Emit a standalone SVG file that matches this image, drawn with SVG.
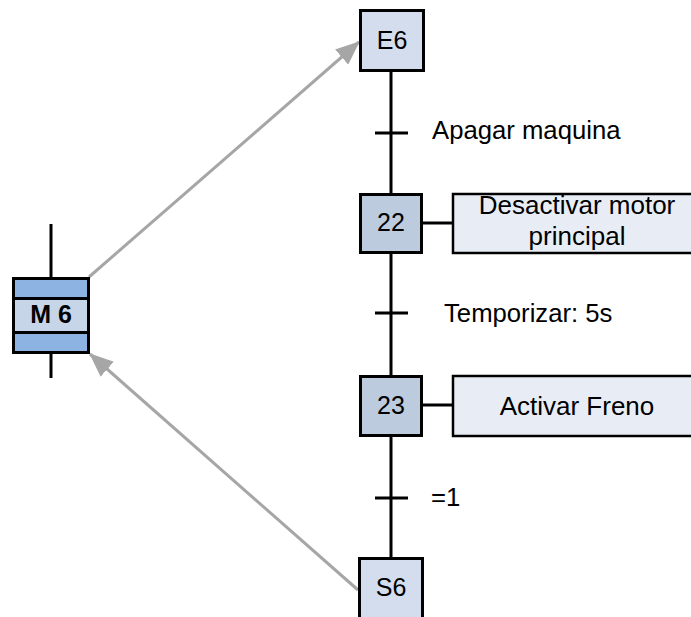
<svg xmlns="http://www.w3.org/2000/svg" width="691" height="617" viewBox="0 0 691 617">
  <style>
    text { font-family: "Liberation Sans", Arial, sans-serif; fill: #000; }
    .lbl { font-size: 25px; text-anchor: middle; }
    .act { font-size: 26px; text-anchor: middle; }
    .cond { font-size: 25.7px; }
    .step { stroke: #000; stroke-width: 3; }
    .light { fill: #d3dded; }
    .dark { fill: #bccbdd; }
    .action { fill: #e8edf5; stroke: #000; stroke-width: 2.5; }
    .wire { stroke: #000; stroke-width: 3; fill: none; }
    .link { stroke: #a6a6a6; stroke-width: 3; fill: none; }
  </style>
  <defs>
    <marker id="head" markerUnits="userSpaceOnUse" markerWidth="24" markerHeight="20" viewBox="0 0 24 20" refX="23" refY="10" orient="auto">
      <path d="M0,0 L24,10 L0,20 Z" fill="#a6a6a6"/>
    </marker>
  </defs>

  <rect width="691" height="617" fill="#fff"/>

  <!-- sequence wiring: main spine, transitions, action links -->
  <g id="connectors">
    <line class="wire" x1="391" y1="70" x2="391" y2="558"/>
    <line class="wire" x1="375" y1="133" x2="408" y2="133"/>
    <line class="wire" x1="375" y1="313" x2="408" y2="313"/>
    <line class="wire" x1="375" y1="498" x2="408" y2="498"/>
    <line class="wire" x1="422" y1="223" x2="453" y2="223"/>
    <line class="wire" x1="422" y1="405" x2="453" y2="405"/>
    <line class="wire" x1="51" y1="224" x2="51" y2="278"/>
    <line class="wire" x1="51" y1="352" x2="51" y2="378"/>
    <line class="link" x1="89" y1="277" x2="359" y2="42" marker-end="url(#head)"/>
    <line class="link" x1="358" y1="590" x2="90" y2="354" marker-end="url(#head)"/>
  </g>

  <g id="cond-apagar">
    <text class="cond" x="432" y="139">Apagar maquina</text>
  </g>
  <g id="cond-temporizar">
    <text class="cond" x="444" y="322">Temporizar: 5s</text>
  </g>
  <g id="cond-1">
    <text class="cond" x="431" y="506">=1</text>
  </g>

  <g id="macro-m6">
    <rect x="13.5" y="278.5" width="75" height="20" fill="#8db3e2" class="step"/>
    <rect x="13.5" y="298.5" width="75" height="34" fill="#c6d6e8" class="step"/>
    <rect x="13.5" y="332.5" width="75" height="20" fill="#8db3e2" class="step"/>
    <text x="51" y="323" font-size="25" font-weight="bold" text-anchor="middle">M 6</text>
  </g>

  <g id="step-e6">
    <rect class="step light" x="360.5" y="10.5" width="63" height="60"/>
    <text class="lbl" x="392" y="49">E6</text>
  </g>

  <g id="step-22">
    <rect class="step dark" x="360.5" y="194.5" width="61" height="58"/>
    <text class="lbl" x="391" y="231">22</text>
  </g>
  <g id="action-22">
    <rect class="action" x="453" y="194" width="250" height="59"/>
    <text class="act" x="577" y="214">Desactivar motor</text>
    <text class="act" x="577" y="245">principal</text>
  </g>

  <g id="step-23">
    <rect class="step dark" x="360.5" y="376.5" width="61" height="59"/>
    <text class="lbl" x="391" y="414">23</text>
  </g>
  <g id="action-23">
    <rect class="action" x="453" y="376" width="250" height="60"/>
    <text class="act" x="577" y="415">Activar Freno</text>
  </g>

  <g id="step-s6">
    <rect class="step light" x="359.5" y="558.5" width="63" height="70"/>
    <text class="lbl" x="391" y="596">S6</text>
  </g>
</svg>
